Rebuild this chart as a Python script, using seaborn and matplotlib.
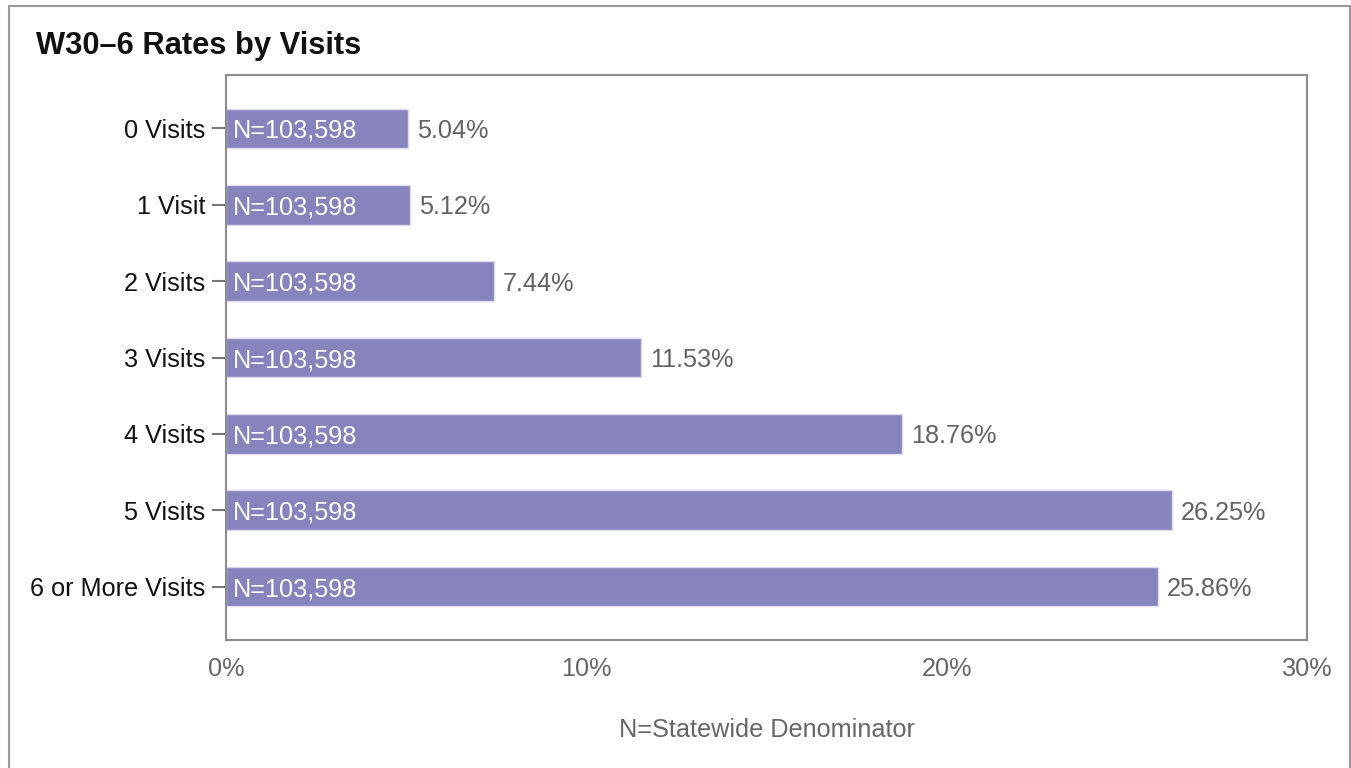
import matplotlib
matplotlib.use("Agg")
import matplotlib.pyplot as plt
import seaborn as sns
import pandas as pd
from matplotlib.patches import Rectangle
from matplotlib.ticker import FuncFormatter

categories = ["0 Visits", "1 Visit", "2 Visits", "3 Visits", "4 Visits", "5 Visits", "6 or More Visits"]
rates = [5.04, 5.12, 7.44, 11.53, 18.76, 26.25, 25.86]
denominators = ["103,598"] * 7
x_ticks = [0, 10, 20, 30]

sns.set_theme(style="white")
plt.rcParams["font.family"] = ["Liberation Sans", "DejaVu Sans"]

FS = 18.2
df = pd.DataFrame({"cat": categories, "rate": rates})

fig = plt.figure(figsize=(13.51, 7.68), dpi=100)
ax = fig.add_axes([226 / 1351, 1 - 640 / 768, (1307 - 226) / 1351, (640 - 75) / 768])

sns.barplot(data=df, y="cat", x="rate", order=categories, color="#8783BC",
            saturation=1, width=0.52, edgecolor="#dcdaee", linewidth=1, ax=ax)

ax.set_xlim(0, 30)
ax.set_ylim(len(categories) - 1 + 0.7, -0.7)
ax.set_xticks(x_ticks)
ax.xaxis.set_major_formatter(FuncFormatter(lambda v, p: f"{v:.0f}%"))
ax.tick_params(axis="x", length=0, pad=12, labelsize=FS, labelcolor="#666666")
ax.tick_params(axis="y", length=10, width=1.5, color="#777777", pad=5, labelsize=FS, labelcolor="#111111", left=True)
ax.set_ylabel("")
ax.set_xlabel("N=Statewide Denominator", fontsize=FS, color="#666666", labelpad=27)

for s in ax.spines.values():
    s.set_visible(True)
    s.set_color("#8c8c8c")
    s.set_linewidth(1.5)

for i, (r, d) in enumerate(zip(rates, denominators)):
    ax.text(0.2, i, f"N={d}", color="white", fontsize=FS, va="center_baseline", ha="left")
    ax.text(r + 0.25, i, f"{r:.2f}%", color="#636363", fontsize=FS, va="center_baseline", ha="left")

fig.text(36 / 1351, 1 - 46 / 768, "W30\u20136 Rates by Visits", fontsize=22.2, fontweight="bold",
         color="#111111", ha="left", va="center")

fig.patches.append(Rectangle((9 / 1351, -0.01), (1349.5 - 9) / 1351, 1 - 6 / 768 + 0.01,
                             transform=fig.transFigure, fill=False, edgecolor="#9a9a9a", linewidth=1.5))

fig.savefig("out.png", dpi=100, facecolor="white")
